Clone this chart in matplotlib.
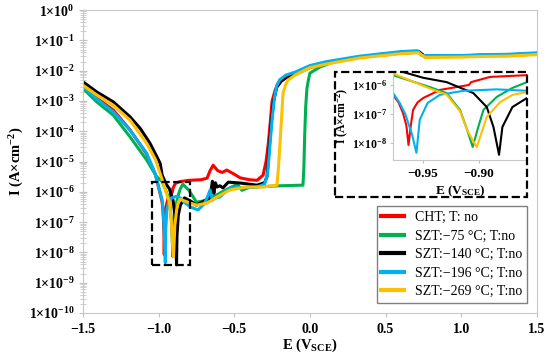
import numpy as np
import matplotlib
matplotlib.use("Agg")
import matplotlib.pyplot as plt
from matplotlib.ticker import LogLocator, FuncFormatter, NullLocator, FixedLocator
from matplotlib.patches import Rectangle

plt.rcParams['font.family'] = ['Liberation Serif', 'DejaVu Sans']
plt.rcParams['mathtext.default'] = 'regular'

# potentiodynamic curves: E (V vs SCE) and log10 of current density (A/cm2)
cht_e = [-1.5, -1.41, -1.30, -1.19, -1.08, -1.02, -0.977, -0.972, -0.968, -0.965, -0.9631,
         -0.961, -0.959, -0.955, -0.95, -0.935, -0.92, -0.909, -0.907, -0.89, -0.857, -0.80,
         -0.72, -0.68, -0.66, -0.64, -0.61, -0.58, -0.55, -0.50, -0.46, -0.40, -0.35, -0.31,
         -0.29, -0.275, -0.264, -0.25, -0.23, -0.21, -0.165, -0.11, 0.0, 0.11, 0.33, 0.60,
         0.70, 0.72, 0.76, 1.0, 1.14, 1.3, 1.5]
cht_logi = [-2.4, -2.9, -3.3, -3.95, -4.75, -5.45, -6.34, -6.6, -6.97, -7.4, -8.07,
            -7.4, -6.86, -6.6, -6.45, -6.17, -6.07, -6.0, -5.9, -5.72, -5.66, -5.62,
            -5.6, -5.55, -5.3, -5.12, -5.3, -5.36, -5.28, -5.42, -5.54, -5.6, -5.62, -5.45,
            -5.0, -4.4, -3.8, -3.0, -2.65, -2.41, -2.24, -2.15, -1.9, -1.75, -1.56, -1.42,
            -1.39, -1.38, -1.53, -1.52, -1.5, -1.5, -1.45]

szt75_e = [-1.5, -1.41, -1.30, -1.19, -1.079, -1.013, -0.977, -0.944, -0.929, -0.917, -0.911,
           -0.9056, -0.901, -0.896, -0.884, -0.870, -0.857, -0.84, -0.80, -0.75, -0.70,
           -0.64, -0.58, -0.53, -0.48, -0.45, -0.40, -0.2, -0.046, -0.040, -0.035, -0.028,
           -0.02, -0.01, 0.0, 0.066, 0.15, 0.3, 0.48, 0.70, 0.72, 0.76, 1.0, 1.14, 1.3, 1.5]
szt75_logi = [-2.59, -3.03, -3.47, -4.18, -4.95, -5.5, -5.66, -6.07, -6.28, -6.86, -7.5,
              -8.14, -7.5, -6.86, -6.41, -6.1, -5.9, -5.75, -5.95, -6.34, -6.3,
              -6.17, -6.0, -5.87, -5.75, -5.95, -5.85, -5.8, -5.78, -5.2, -4.2, -3.2,
              -2.6, -2.3, -2.08, -1.88, -1.72, -1.58, -1.45, -1.4, -1.4, -1.55, -1.53, -1.5, -1.48, -1.44]

szt140_e = [-1.5, -1.41, -1.30, -1.19, -1.123, -1.057, -0.99, -0.977, -0.95, -0.929, -0.905,
            -0.893, -0.887, -0.882, -0.879, -0.870, -0.857, -0.83, -0.79, -0.75, -0.70, -0.66,
            -0.645, -0.635, -0.625, -0.614, -0.595, -0.575, -0.54, -0.46, -0.35, -0.30,
            -0.284, -0.27, -0.255, -0.24, -0.22, -0.19, -0.15, -0.10, 0.0, 0.11, 0.33, 0.60,
            0.70, 0.72, 0.76, 1.0, 1.14, 1.3, 1.5]
szt140_logi = [-2.37, -2.7, -3.03, -3.52, -3.9, -4.4, -5.06, -5.45, -5.75, -5.9, -6.28,
               -6.76, -7.45, -8.41, -7.45, -6.76, -6.45, -6.2, -6.3, -6.44, -6.3, -6.2,
               -5.65, -6.05, -5.7, -5.84, -5.8, -5.87, -5.68, -5.71, -5.78, -5.7,
               -5.5, -4.6, -3.7, -3.0, -2.55, -2.35, -2.2, -2.1, -1.88, -1.74, -1.55, -1.41,
               -1.38, -1.37, -1.53, -1.51, -1.49, -1.48, -1.43]

szt196_e = [-1.5, -1.41, -1.30, -1.19, -1.079, -1.024, -0.977, -0.971, -0.966, -0.960, -0.956,
            -0.953, -0.946, -0.935, -0.914, -0.884, -0.857, -0.83, -0.79, -0.74, -0.70,
            -0.68, -0.66, -0.645, -0.62, -0.595, -0.53, -0.46, -0.35, -0.30, -0.28, -0.265,
            -0.25, -0.235, -0.22, -0.2, -0.16, -0.1, 0.0, 0.11, 0.33, 0.60, 0.71, 0.74,
            1.0, 1.14, 1.3, 1.5]
szt196_logi = [-2.52, -2.93, -3.36, -3.96, -4.73, -5.39, -6.27, -6.62, -7.0, -7.7, -8.34,
               -7.2, -6.62, -6.34, -6.2, -6.15, -6.2, -6.35, -6.5, -6.6, -6.4,
               -6.2, -5.94, -6.27, -6.2, -6.17, -5.87, -5.87, -5.84, -5.75, -5.4, -4.5,
               -3.6, -2.9, -2.5, -2.3, -2.15, -2.05, -1.83, -1.7, -1.52, -1.37, -1.34, -1.5,
               -1.5, -1.47, -1.46, -1.41]

szt269_e = [-1.5, -1.41, -1.30, -1.19, -1.079, -1.02, -0.977, -0.944, -0.929, -0.917, -0.910,
            -0.905, -0.902, -0.899, -0.893, -0.881, -0.870, -0.857, -0.83, -0.75, -0.68,
            -0.614, -0.53, -0.42, -0.31, -0.25, -0.218, -0.208, -0.198, -0.188, -0.178,
            -0.16, -0.145, -0.10, 0.0, 0.11, 0.33, 0.60, 0.70, 0.72, 0.76, 1.0, 1.14, 1.3, 1.5]
szt269_logi = [-2.48, -2.8, -3.14, -3.63, -4.4, -4.95, -5.6, -6.12, -6.33, -6.9, -7.6,
               -7.95, -8.14, -7.8, -7.1, -6.59, -6.34, -6.24, -6.3, -6.44, -6.37,
               -6.17, -5.94, -5.84, -5.84, -5.8, -5.78, -5.2, -4.4, -3.6, -2.74,
               -2.45, -2.31, -2.15, -1.9, -1.78, -1.58, -1.44, -1.41, -1.41, -1.56, -1.55, -1.53, -1.52, -1.47]

labels = ['CHT; T: no', 'SZT:\u221275 \u00b0C; T:no', 'SZT:\u2212140 \u00b0C; T:no',
          'SZT:\u2212196 \u00b0C; T:no', 'SZT:\u2212269 \u00b0C; T:no']
colors = ['#ff0000', '#00b050', '#000000', '#00b0f0', '#ffc000']
curves = [(cht_e, cht_logi), (szt75_e, szt75_logi), (szt140_e, szt140_logi),
          (szt196_e, szt196_logi), (szt269_e, szt269_logi)]

# zoomed region marked on the main plot
box_e = (-1.045, -0.795)
box_i = (3.8e-9, 2.1e-6)


def sci_label(v, pos):
    return '1\u00d710$^{%d}$' % int(round(np.log10(v)))


fig = plt.figure(figsize=(5.5, 3.61), dpi=100)
ax = fig.add_axes([0.151, 0.133, 0.825, 0.839])

for (e, li), c, lab in zip(curves, colors, labels):
    ax.plot(e, 10 ** np.array(li), color=c, lw=2.2, label=lab)

ax.set_yscale('log')
ax.set_xlim(-1.5, 1.5)
ax.set_ylim(1e-10, 1)
ax.set_xticks(np.arange(-1.5, 1.51, 0.5))
ax.yaxis.set_major_locator(LogLocator(base=10, numticks=20))
ax.yaxis.set_minor_locator(LogLocator(base=10, subs=np.arange(2, 10), numticks=20))
ax.yaxis.set_major_formatter(FuncFormatter(sci_label))
ax.xaxis.set_major_formatter(FuncFormatter(lambda v, p: f'{v:.1f}'.replace('-', '\u2212')))
for s in ax.spines.values():
    s.set_color('#c8c8c8')
ax.tick_params(axis='y', which='major', direction='inout', length=6, color='#c0c0c0',
               labelsize=10, pad=3)
ax.tick_params(axis='y', which='minor', direction='inout', length=4, color='#c8c8c8')
ax.tick_params(axis='x', direction='out', length=3, color='#c0c0c0', labelsize=10, pad=4)
for t in ax.get_xticklabels() + ax.get_yticklabels():
    t.set_fontweight('bold')
ax.set_xlabel('E (V$_{SCE}$)', fontsize=10.5, fontweight='bold', labelpad=1)
ax.set_ylabel('I (A\u00d7cm$^{-2}$)', fontsize=10.5, fontweight='bold', labelpad=2)

ax.add_patch(Rectangle((box_e[0], box_i[0]), box_e[1] - box_e[0], box_i[1] - box_i[0],
                       fill=False, ls='--', lw=1.6, color='black', zorder=5))

leg = ax.legend(loc='lower right', bbox_to_anchor=(0.978, 0.033), borderaxespad=0,
                prop={'size': 10, 'weight': 'normal'}, handlelength=1.6, handletextpad=0.8,
                fancybox=False, framealpha=1, edgecolor='#808080', labelspacing=0.4,
                borderpad=0.35)
for h in leg.legend_handles:
    h.set_linewidth(3)

# inset with the corrosion potentials
ins = fig.add_axes([0.7145, 0.5568, 0.2436, 0.2438])
for (e, li), c in zip(curves, colors):
    ins.plot(e, 10 ** np.array(li), color=c, lw=1.5)
ins.set_yscale('log')
ins.set_xlim(-0.977, -0.857)
ins.set_ylim(10 ** -8.59, 10 ** -5.55)
ins.xaxis.set_major_locator(FixedLocator([-0.95, -0.90]))
ins.xaxis.set_major_formatter(FuncFormatter(lambda v, p: f'{v:.2f}'.replace('-', '\u2212')))
ins.yaxis.set_major_locator(FixedLocator([1e-8, 1e-7, 1e-6]))
ins.yaxis.set_minor_locator(NullLocator())
ins.yaxis.set_major_formatter(FuncFormatter(sci_label))
ins.spines['top'].set_visible(False)
ins.spines['right'].set_visible(False)
ins.spines['left'].set_color('#c8c8c8')
ins.spines['bottom'].set_color('#c8c8c8')
ins.tick_params(axis='y', length=2, color='#c0c0c0', labelsize=8.5, pad=2)
ins.tick_params(axis='x', length=2, color='#c0c0c0', labelsize=9.5, pad=4)
for t in ins.get_xticklabels() + ins.get_yticklabels():
    t.set_fontweight('bold')
ins.set_xlabel('E (V$_{SCE}$)', fontsize=9.5, fontweight='bold', labelpad=2)
ins.set_ylabel('I (A\u00d7cm$^{-2}$)', fontsize=8.5, fontweight='bold', labelpad=1)

fig.add_artist(Rectangle((0.609, 0.4543), 0.349, 0.3463, transform=fig.transFigure,
                         fill=False, ls='--', lw=1.6, color='black', zorder=10))

fig.savefig('out.png', dpi=100)
